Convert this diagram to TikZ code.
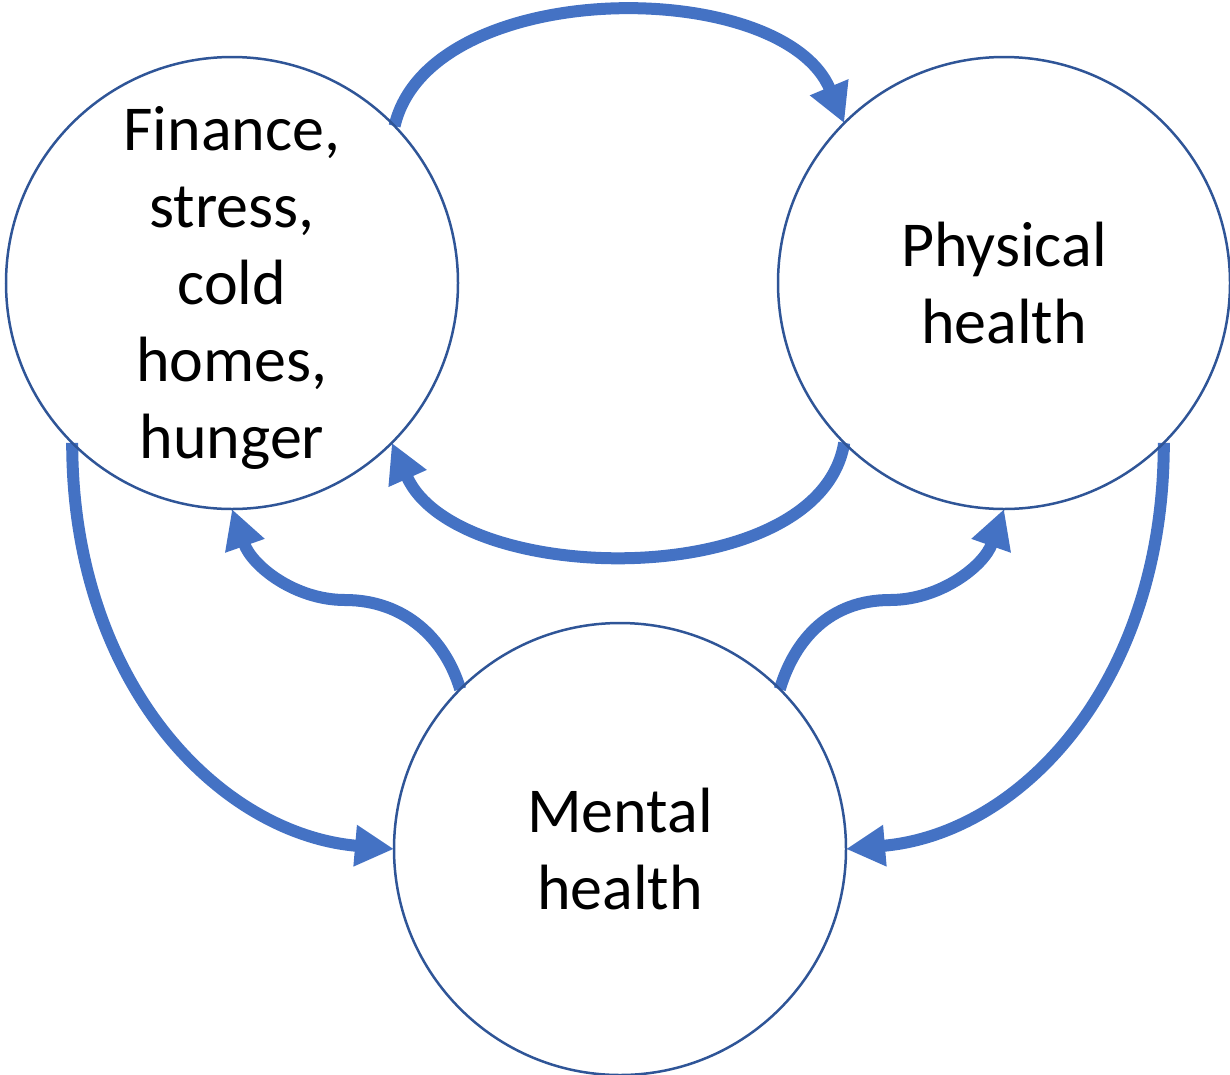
\documentclass[tikz,border=0pt]{standalone}
\usepackage{fontspec}
\setmainfont{Carlito}
\usetikzlibrary{arrows.meta}
\pgfdeclarelayer{bg}
\pgfsetlayers{bg,main}
\definecolor{arrowblue}{HTML}{4472C4}
\definecolor{ringblue}{HTML}{2F5597}
\begin{document}
\begin{tikzpicture}[x=1pt,y=-1pt,
  ring/.style={circle,draw=ringblue,line width=2.5pt,minimum size=452pt,inner sep=0pt,outer sep=0pt,align=center,font=\fontsize{64}{77}\selectfont},
  txt/.style={inner sep=0pt,align=center,font=\fontsize{64}{77}\selectfont},
  flow/.style={draw=arrowblue,line width=12pt,-{Triangle[length=39pt,width=39pt]}}]
\useasboundingbox (0,0) rectangle (1230,1074);
\node[ring] (L) at (232,283) {};
\node[txt] (Lt) at ([yshift=-5pt]L.center) {Finance,\\stress,\\cold\\homes,\\hunger};
\node[ring] (R) at (1004,283) {Physical\\health};
\node[ring] (M) at (620,849) {Mental\\health};
\coordinate (a5) at (345,600);
\coordinate (a6) at (890,600);
\begin{pgfonlayer}{bg}
\draw[flow] (L.44) .. controls +(35,-150) and +(-62,-148) .. (R.135);
\draw[flow] (R.225) .. controls +(-25,150) and +(65,146) .. (L.315);
\draw[flow] (L.225) .. controls +(0,240) and +(-175,-15) .. (M.180);
\draw[flow] (R.315) .. controls +(0,240) and +(175,-15) .. (M.0);
\draw[flow] (M.135) .. controls +(-15,-50) and +(60,0) .. (a5) .. controls +(-50,0) and +(20,57) .. (L.270);
\draw[flow] (M.45) .. controls +(15,-50) and +(-60,0) .. (a6) .. controls +(50,0) and +(-20,57) .. (R.270);
\end{pgfonlayer}
\end{tikzpicture}
\end{document}
